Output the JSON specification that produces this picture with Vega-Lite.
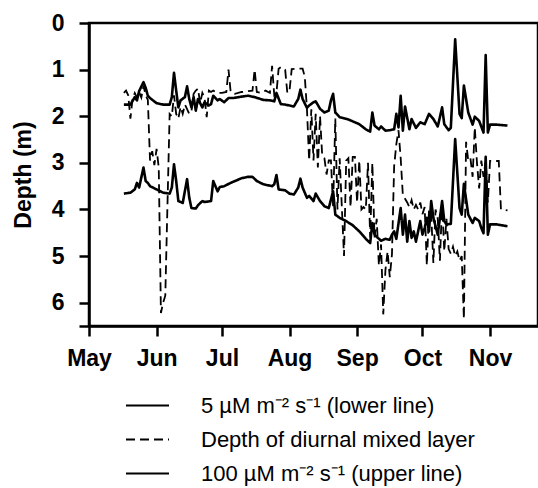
{
"$schema": "https://vega.github.io/schema/vega-lite/v6.json",
"width": 449, "height": 303,
"autosize": {"type": "none"},
"padding": {"left": 89, "top": 23, "right": 0, "bottom": 162},
"background": "white",
"config": {"view": {"stroke": "black", "strokeWidth": 2.5}, "font": "Liberation Sans"},
"data": {"values": [
{"s":"upper","date":"2003-05-17","v":1.75},{"s":"upper","date":"2003-05-20","v":1.75},{"s":"upper","date":"2003-05-22","v":1.59},{"s":"upper","date":"2003-05-23","v":1.66},{"s":"upper","date":"2003-05-24","v":1.46},{"s":"upper","date":"2003-05-26","v":1.27},{"s":"upper","date":"2003-05-27","v":1.39},{"s":"upper","date":"2003-05-28","v":1.56},{"s":"upper","date":"2003-05-29","v":1.61},{"s":"upper","date":"2003-06-01","v":1.72},{"s":"upper","date":"2003-06-04","v":1.75},{"s":"upper","date":"2003-06-07","v":1.75},{"s":"upper","date":"2003-06-08","v":1.59},{"s":"upper","date":"2003-06-09","v":1.07},{"s":"upper","date":"2003-06-10","v":1.45},{"s":"upper","date":"2003-06-11","v":1.81},{"s":"upper","date":"2003-06-12","v":1.66},{"s":"upper","date":"2003-06-14","v":1.59},{"s":"upper","date":"2003-06-15","v":1.36},{"s":"upper","date":"2003-06-16","v":1.63},{"s":"upper","date":"2003-06-17","v":1.81},{"s":"upper","date":"2003-06-18","v":1.59},{"s":"upper","date":"2003-06-19","v":1.88},{"s":"upper","date":"2003-06-20","v":1.63},{"s":"upper","date":"2003-06-22","v":1.81},{"s":"upper","date":"2003-06-23","v":1.70},{"s":"upper","date":"2003-06-25","v":1.77},{"s":"upper","date":"2003-06-26","v":1.74},{"s":"upper","date":"2003-06-27","v":1.56},{"s":"upper","date":"2003-06-29","v":1.66},{"s":"upper","date":"2003-06-30","v":1.63},{"s":"upper","date":"2003-07-02","v":1.70},{"s":"upper","date":"2003-07-04","v":1.61},{"s":"upper","date":"2003-07-06","v":1.61},{"s":"upper","date":"2003-07-10","v":1.58},{"s":"upper","date":"2003-07-13","v":1.56},{"s":"upper","date":"2003-07-16","v":1.59},{"s":"upper","date":"2003-07-20","v":1.65},{"s":"upper","date":"2003-07-23","v":1.66},{"s":"upper","date":"2003-07-25","v":1.68},{"s":"upper","date":"2003-07-26","v":1.50},{"s":"upper","date":"2003-07-28","v":1.74},{"s":"upper","date":"2003-07-30","v":1.75},{"s":"upper","date":"2003-08-03","v":1.79},{"s":"upper","date":"2003-08-05","v":1.63},{"s":"upper","date":"2003-08-06","v":1.43},{"s":"upper","date":"2003-08-07","v":1.63},{"s":"upper","date":"2003-08-09","v":1.82},{"s":"upper","date":"2003-08-10","v":1.77},{"s":"upper","date":"2003-08-12","v":1.70},{"s":"upper","date":"2003-08-13","v":1.68},{"s":"upper","date":"2003-08-15","v":1.84},{"s":"upper","date":"2003-08-17","v":1.92},{"s":"upper","date":"2003-08-19","v":1.88},{"s":"upper","date":"2003-08-20","v":1.66},{"s":"upper","date":"2003-08-21","v":1.52},{"s":"upper","date":"2003-08-22","v":1.92},{"s":"upper","date":"2003-08-24","v":2.02},{"s":"upper","date":"2003-08-28","v":2.07},{"s":"upper","date":"2003-09-02","v":2.17},{"s":"upper","date":"2003-09-05","v":2.28},{"s":"upper","date":"2003-09-07","v":2.33},{"s":"upper","date":"2003-09-08","v":1.92},{"s":"upper","date":"2003-09-09","v":2.20},{"s":"upper","date":"2003-09-11","v":2.28},{"s":"upper","date":"2003-09-12","v":2.22},{"s":"upper","date":"2003-09-14","v":2.31},{"s":"upper","date":"2003-09-16","v":2.30},{"s":"upper","date":"2003-09-18","v":2.28},{"s":"upper","date":"2003-09-19","v":1.95},{"s":"upper","date":"2003-09-20","v":2.24},{"s":"upper","date":"2003-09-21","v":1.56},{"s":"upper","date":"2003-09-22","v":2.31},{"s":"upper","date":"2003-09-23","v":1.79},{"s":"upper","date":"2003-09-25","v":2.28},{"s":"upper","date":"2003-09-26","v":2.06},{"s":"upper","date":"2003-09-28","v":2.25},{"s":"upper","date":"2003-09-30","v":2.13},{"s":"upper","date":"2003-10-02","v":2.17},{"s":"upper","date":"2003-10-04","v":1.95},{"s":"upper","date":"2003-10-06","v":2.06},{"s":"upper","date":"2003-10-08","v":2.22},{"s":"upper","date":"2003-10-09","v":2.02},{"s":"upper","date":"2003-10-10","v":1.81},{"s":"upper","date":"2003-10-11","v":2.17},{"s":"upper","date":"2003-10-13","v":2.30},{"s":"upper","date":"2003-10-14","v":2.25},{"s":"upper","date":"2003-10-16","v":0.35},{"s":"upper","date":"2003-10-18","v":1.95},{"s":"upper","date":"2003-10-19","v":2.04},{"s":"upper","date":"2003-10-20","v":1.34},{"s":"upper","date":"2003-10-22","v":1.92},{"s":"upper","date":"2003-10-24","v":2.18},{"s":"upper","date":"2003-10-25","v":2.01},{"s":"upper","date":"2003-10-27","v":2.10},{"s":"upper","date":"2003-10-29","v":2.35},{"s":"upper","date":"2003-10-30","v":0.69},{"s":"upper","date":"2003-10-31","v":2.35},{"s":"upper","date":"2003-11-01","v":2.18},{"s":"upper","date":"2003-11-04","v":2.18},{"s":"upper","date":"2003-11-09","v":2.2},
{"s":"lower","date":"2003-05-17","v":3.66},{"s":"lower","date":"2003-05-20","v":3.64},{"s":"lower","date":"2003-05-22","v":3.57},{"s":"lower","date":"2003-05-23","v":3.43},{"s":"lower","date":"2003-05-24","v":3.53},{"s":"lower","date":"2003-05-26","v":3.10},{"s":"lower","date":"2003-05-27","v":3.39},{"s":"lower","date":"2003-05-28","v":3.43},{"s":"lower","date":"2003-05-29","v":3.50},{"s":"lower","date":"2003-06-01","v":3.57},{"s":"lower","date":"2003-06-04","v":3.64},{"s":"lower","date":"2003-06-07","v":3.66},{"s":"lower","date":"2003-06-08","v":3.53},{"s":"lower","date":"2003-06-09","v":3.03},{"s":"lower","date":"2003-06-10","v":3.39},{"s":"lower","date":"2003-06-11","v":3.82},{"s":"lower","date":"2003-06-13","v":3.86},{"s":"lower","date":"2003-06-15","v":3.35},{"s":"lower","date":"2003-06-16","v":3.75},{"s":"lower","date":"2003-06-17","v":3.97},{"s":"lower","date":"2003-06-19","v":3.98},{"s":"lower","date":"2003-06-20","v":3.91},{"s":"lower","date":"2003-06-22","v":3.82},{"s":"lower","date":"2003-06-23","v":3.84},{"s":"lower","date":"2003-06-26","v":3.82},{"s":"lower","date":"2003-06-27","v":3.39},{"s":"lower","date":"2003-06-29","v":3.61},{"s":"lower","date":"2003-06-30","v":3.52},{"s":"lower","date":"2003-07-02","v":3.50},{"s":"lower","date":"2003-07-05","v":3.43},{"s":"lower","date":"2003-07-07","v":3.39},{"s":"lower","date":"2003-07-10","v":3.33},{"s":"lower","date":"2003-07-13","v":3.30},{"s":"lower","date":"2003-07-15","v":3.30},{"s":"lower","date":"2003-07-17","v":3.39},{"s":"lower","date":"2003-07-20","v":3.46},{"s":"lower","date":"2003-07-24","v":3.50},{"s":"lower","date":"2003-07-25","v":3.46},{"s":"lower","date":"2003-07-26","v":3.26},{"s":"lower","date":"2003-07-27","v":3.57},{"s":"lower","date":"2003-07-30","v":3.59},{"s":"lower","date":"2003-08-01","v":3.66},{"s":"lower","date":"2003-08-03","v":3.68},{"s":"lower","date":"2003-08-05","v":3.53},{"s":"lower","date":"2003-08-06","v":3.34},{"s":"lower","date":"2003-08-07","v":3.53},{"s":"lower","date":"2003-08-09","v":3.75},{"s":"lower","date":"2003-08-10","v":3.71},{"s":"lower","date":"2003-08-12","v":3.82},{"s":"lower","date":"2003-08-13","v":3.66},{"s":"lower","date":"2003-08-15","v":3.82},{"s":"lower","date":"2003-08-17","v":3.93},{"s":"lower","date":"2003-08-19","v":3.97},{"s":"lower","date":"2003-08-21","v":3.61},{"s":"lower","date":"2003-08-22","v":4.11},{"s":"lower","date":"2003-08-24","v":4.18},{"s":"lower","date":"2003-08-27","v":4.25},{"s":"lower","date":"2003-08-30","v":4.34},{"s":"lower","date":"2003-09-02","v":4.47},{"s":"lower","date":"2003-09-05","v":4.63},{"s":"lower","date":"2003-09-07","v":4.72},{"s":"lower","date":"2003-09-08","v":4.29},{"s":"lower","date":"2003-09-09","v":4.54},{"s":"lower","date":"2003-09-11","v":4.63},{"s":"lower","date":"2003-09-12","v":4.67},{"s":"lower","date":"2003-09-14","v":4.63},{"s":"lower","date":"2003-09-16","v":4.65},{"s":"lower","date":"2003-09-17","v":4.54},{"s":"lower","date":"2003-09-18","v":4.47},{"s":"lower","date":"2003-09-19","v":4.63},{"s":"lower","date":"2003-09-21","v":3.97},{"s":"lower","date":"2003-09-22","v":4.54},{"s":"lower","date":"2003-09-23","v":4.11},{"s":"lower","date":"2003-09-24","v":4.69},{"s":"lower","date":"2003-09-25","v":4.25},{"s":"lower","date":"2003-09-26","v":4.61},{"s":"lower","date":"2003-09-27","v":4.47},{"s":"lower","date":"2003-09-28","v":4.69},{"s":"lower","date":"2003-09-30","v":4.25},{"s":"lower","date":"2003-10-01","v":4.54},{"s":"lower","date":"2003-10-02","v":4.40},{"s":"lower","date":"2003-10-03","v":4.18},{"s":"lower","date":"2003-10-04","v":4.47},{"s":"lower","date":"2003-10-05","v":3.82},{"s":"lower","date":"2003-10-06","v":4.18},{"s":"lower","date":"2003-10-08","v":4.54},{"s":"lower","date":"2003-10-09","v":4.18},{"s":"lower","date":"2003-10-10","v":3.82},{"s":"lower","date":"2003-10-11","v":4.25},{"s":"lower","date":"2003-10-12","v":4.32},{"s":"lower","date":"2003-10-14","v":4.31},{"s":"lower","date":"2003-10-16","v":2.49},{"s":"lower","date":"2003-10-18","v":3.97},{"s":"lower","date":"2003-10-19","v":4.11},{"s":"lower","date":"2003-10-20","v":3.45},{"s":"lower","date":"2003-10-22","v":4.11},{"s":"lower","date":"2003-10-24","v":4.29},{"s":"lower","date":"2003-10-25","v":4.18},{"s":"lower","date":"2003-10-27","v":4.25},{"s":"lower","date":"2003-10-28","v":4.40},{"s":"lower","date":"2003-10-29","v":4.51},{"s":"lower","date":"2003-10-30","v":2.87},{"s":"lower","date":"2003-10-31","v":4.54},{"s":"lower","date":"2003-11-01","v":4.32},{"s":"lower","date":"2003-11-04","v":4.32},{"s":"lower","date":"2003-11-09","v":4.36},
{"s":"mixed","date":"2003-05-17","v":1.50},{"s":"mixed","date":"2003-05-18","v":1.45},{"s":"mixed","date":"2003-05-19","v":1.55},{"s":"mixed","date":"2003-05-20","v":2.05},{"s":"mixed","date":"2003-05-21","v":1.62},{"s":"mixed","date":"2003-05-22","v":1.50},{"s":"mixed","date":"2003-05-23","v":1.60},{"s":"mixed","date":"2003-05-24","v":1.48},{"s":"mixed","date":"2003-05-25","v":1.60},{"s":"mixed","date":"2003-05-26","v":1.35},{"s":"mixed","date":"2003-05-27","v":1.55},{"s":"mixed","date":"2003-05-28","v":1.65},{"s":"mixed","date":"2003-05-29","v":2.95},{"s":"mixed","date":"2003-05-30","v":2.75},{"s":"mixed","date":"2003-05-31","v":3.05},{"s":"mixed","date":"2003-06-01","v":2.70},{"s":"mixed","date":"2003-06-02","v":3.10},{"s":"mixed","date":"2003-06-03","v":6.22},{"s":"mixed","date":"2003-06-04","v":6.00},{"s":"mixed","date":"2003-06-05","v":5.85},{"s":"mixed","date":"2003-06-07","v":1.95},{"s":"mixed","date":"2003-06-08","v":2.00},{"s":"mixed","date":"2003-06-09","v":1.55},{"s":"mixed","date":"2003-06-10","v":1.95},{"s":"mixed","date":"2003-06-11","v":2.05},{"s":"mixed","date":"2003-06-12","v":1.80},{"s":"mixed","date":"2003-06-13","v":1.95},{"s":"mixed","date":"2003-06-14","v":1.75},{"s":"mixed","date":"2003-06-15","v":1.85},{"s":"mixed","date":"2003-06-16","v":1.95},{"s":"mixed","date":"2003-06-17","v":1.90},{"s":"mixed","date":"2003-06-18","v":1.52},{"s":"mixed","date":"2003-06-19","v":1.45},{"s":"mixed","date":"2003-06-20","v":1.41},{"s":"mixed","date":"2003-06-21","v":1.72},{"s":"mixed","date":"2003-06-22","v":1.50},{"s":"mixed","date":"2003-06-23","v":1.60},{"s":"mixed","date":"2003-06-24","v":2.02},{"s":"mixed","date":"2003-06-25","v":1.45},{"s":"mixed","date":"2003-06-26","v":1.48},{"s":"mixed","date":"2003-06-27","v":1.45},{"s":"mixed","date":"2003-06-29","v":1.50},{"s":"mixed","date":"2003-07-01","v":1.50},{"s":"mixed","date":"2003-07-03","v":1.48},{"s":"mixed","date":"2003-07-04","v":1.00},{"s":"mixed","date":"2003-07-05","v":1.48},{"s":"mixed","date":"2003-07-07","v":1.52},{"s":"mixed","date":"2003-07-10","v":1.48},{"s":"mixed","date":"2003-07-13","v":1.46},{"s":"mixed","date":"2003-07-15","v":1.45},{"s":"mixed","date":"2003-07-16","v":1.00},{"s":"mixed","date":"2003-07-17","v":1.48},{"s":"mixed","date":"2003-07-19","v":1.50},{"s":"mixed","date":"2003-07-21","v":1.45},{"s":"mixed","date":"2003-07-23","v":1.50},{"s":"mixed","date":"2003-07-24","v":0.92},{"s":"mixed","date":"2003-07-25","v":1.55},{"s":"mixed","date":"2003-07-26","v":1.50},{"s":"mixed","date":"2003-07-27","v":0.98},{"s":"mixed","date":"2003-07-28","v":0.95},{"s":"mixed","date":"2003-07-30","v":1.00},{"s":"mixed","date":"2003-07-31","v":1.50},{"s":"mixed","date":"2003-08-01","v":1.45},{"s":"mixed","date":"2003-08-02","v":0.99},{"s":"mixed","date":"2003-08-04","v":0.98},{"s":"mixed","date":"2003-08-07","v":0.98},{"s":"mixed","date":"2003-08-08","v":1.15},{"s":"mixed","date":"2003-08-09","v":1.85},{"s":"mixed","date":"2003-08-10","v":2.95},{"s":"mixed","date":"2003-08-11","v":1.85},{"s":"mixed","date":"2003-08-12","v":2.95},{"s":"mixed","date":"2003-08-13","v":1.95},{"s":"mixed","date":"2003-08-14","v":3.10},{"s":"mixed","date":"2003-08-15","v":2.00},{"s":"mixed","date":"2003-08-16","v":2.85},{"s":"mixed","date":"2003-08-17","v":2.90},{"s":"mixed","date":"2003-08-18","v":3.25},{"s":"mixed","date":"2003-08-19","v":2.95},{"s":"mixed","date":"2003-08-20","v":2.95},{"s":"mixed","date":"2003-08-21","v":3.95},{"s":"mixed","date":"2003-08-22","v":2.05},{"s":"mixed","date":"2003-08-23","v":4.00},{"s":"mixed","date":"2003-08-24","v":2.90},{"s":"mixed","date":"2003-08-25","v":3.95},{"s":"mixed","date":"2003-08-26","v":5.00},{"s":"mixed","date":"2003-08-27","v":2.95},{"s":"mixed","date":"2003-08-28","v":2.90},{"s":"mixed","date":"2003-08-29","v":3.95},{"s":"mixed","date":"2003-08-30","v":2.87},{"s":"mixed","date":"2003-08-31","v":2.87},{"s":"mixed","date":"2003-09-01","v":3.85},{"s":"mixed","date":"2003-09-02","v":2.95},{"s":"mixed","date":"2003-09-03","v":4.00},{"s":"mixed","date":"2003-09-04","v":3.95},{"s":"mixed","date":"2003-09-05","v":4.00},{"s":"mixed","date":"2003-09-06","v":3.00},{"s":"mixed","date":"2003-09-07","v":4.60},{"s":"mixed","date":"2003-09-08","v":3.00},{"s":"mixed","date":"2003-09-09","v":4.60},{"s":"mixed","date":"2003-09-10","v":4.20},{"s":"mixed","date":"2003-09-11","v":5.20},{"s":"mixed","date":"2003-09-12","v":4.75},{"s":"mixed","date":"2003-09-13","v":6.25},{"s":"mixed","date":"2003-09-14","v":5.30},{"s":"mixed","date":"2003-09-15","v":4.90},{"s":"mixed","date":"2003-09-16","v":5.45},{"s":"mixed","date":"2003-09-17","v":4.96},{"s":"mixed","date":"2003-09-18","v":3.07},{"s":"mixed","date":"2003-09-19","v":2.60},{"s":"mixed","date":"2003-09-20","v":2.30},{"s":"mixed","date":"2003-09-21","v":2.90},{"s":"mixed","date":"2003-09-22","v":3.70},{"s":"mixed","date":"2003-09-23","v":3.77},{"s":"mixed","date":"2003-09-24","v":3.85},{"s":"mixed","date":"2003-09-25","v":3.95},{"s":"mixed","date":"2003-09-26","v":3.80},{"s":"mixed","date":"2003-09-27","v":4.00},{"s":"mixed","date":"2003-09-28","v":3.90},{"s":"mixed","date":"2003-09-29","v":4.00},{"s":"mixed","date":"2003-09-30","v":3.85},{"s":"mixed","date":"2003-10-01","v":4.10},{"s":"mixed","date":"2003-10-02","v":3.95},{"s":"mixed","date":"2003-10-03","v":5.20},{"s":"mixed","date":"2003-10-04","v":4.00},{"s":"mixed","date":"2003-10-05","v":4.10},{"s":"mixed","date":"2003-10-06","v":5.15},{"s":"mixed","date":"2003-10-07","v":4.00},{"s":"mixed","date":"2003-10-08","v":4.20},{"s":"mixed","date":"2003-10-09","v":5.10},{"s":"mixed","date":"2003-10-10","v":3.85},{"s":"mixed","date":"2003-10-11","v":4.90},{"s":"mixed","date":"2003-10-12","v":4.20},{"s":"mixed","date":"2003-10-13","v":4.85},{"s":"mixed","date":"2003-10-14","v":4.95},{"s":"mixed","date":"2003-10-15","v":4.80},{"s":"mixed","date":"2003-10-16","v":5.00},{"s":"mixed","date":"2003-10-17","v":4.90},{"s":"mixed","date":"2003-10-18","v":5.10},{"s":"mixed","date":"2003-10-19","v":5.00},{"s":"mixed","date":"2003-10-20","v":6.35},{"s":"mixed","date":"2003-10-21","v":2.55},{"s":"mixed","date":"2003-10-22","v":2.95},{"s":"mixed","date":"2003-10-23","v":2.90},{"s":"mixed","date":"2003-10-24","v":3.30},{"s":"mixed","date":"2003-10-25","v":2.24},{"s":"mixed","date":"2003-10-26","v":3.00},{"s":"mixed","date":"2003-10-27","v":3.55},{"s":"mixed","date":"2003-10-28","v":2.95},{"s":"mixed","date":"2003-10-29","v":3.30},{"s":"mixed","date":"2003-10-30","v":2.95},{"s":"mixed","date":"2003-10-31","v":3.85},{"s":"mixed","date":"2003-11-01","v":2.96},{"s":"mixed","date":"2003-11-03","v":2.96},{"s":"mixed","date":"2003-11-05","v":2.96},{"s":"mixed","date":"2003-11-06","v":4.00},{"s":"mixed","date":"2003-11-09","v":4.02}
]},
"encoding": {
  "x": {"field": "date", "type": "temporal",
    "scale": {"type": "utc", "domain": [{"year": 2003, "month": 5, "date": 1, "utc": true}, {"year": 2003, "month": 11, "date": 23, "utc": true}]},
    "axis": {"title": null, "grid": false, "format": "%b",
      "values": [{"year": 2003, "month": 5, "date": 1, "utc": true}, {"year": 2003, "month": 6, "date": 1, "utc": true}, {"year": 2003, "month": 7, "date": 1, "utc": true}, {"year": 2003, "month": 8, "date": 1, "utc": true}, {"year": 2003, "month": 9, "date": 1, "utc": true}, {"year": 2003, "month": 10, "date": 1, "utc": true}, {"year": 2003, "month": 11, "date": 1, "utc": true}],
      "labelFont": "Liberation Sans", "labelFontSize": 23, "labelFontWeight": "bold", "labelColor": "black", "labelPadding": 11,
      "tickColor": "black", "tickSize": 10, "tickWidth": 2.5, "domainColor": "black", "domainWidth": 2.5, "labelFlush": false, "labelOverlap": false}},
  "y": {"field": "v", "type": "quantitative",
    "scale": {"domain": [0, 6.5], "reverse": true, "nice": false, "zero": false},
    "axis": {"title": "Depth (m)", "grid": false, "values": [0, 1, 2, 3, 4, 5, 6, 6.5],
      "labelExpr": "datum.value == 6.5 ? '' : datum.label",
      "labelFont": "Liberation Sans", "labelFontSize": 23, "labelFontWeight": "bold", "labelColor": "black", "labelPadding": 15,
      "titleFont": "Liberation Sans", "titleFontSize": 23, "titleFontWeight": "bold", "titleColor": "black", "titlePadding": 16,
      "tickColor": "black", "tickSize": 10, "tickWidth": 2.5, "domainColor": "black", "domainWidth": 2.5, "labelFlush": false, "labelOverlap": false}},
  "strokeDash": {"field": "s", "type": "nominal",
    "scale": {"domain": ["lower", "mixed", "upper"], "range": [[1, 0], [9, 5], [1, 0]]},
    "legend": {"title": null, "orient": "none", "legendX": 36, "legendY": 360, "direction": "vertical", "padding": 0,
      "symbolType": "stroke", "symbolSize": 1849, "symbolStrokeColor": "black", "symbolStrokeWidth": 2, "symbolFillColor": "black",
      "labelFont": "Liberation Sans", "labelFontSize": 22, "labelColor": "black", "labelOffset": 31, "rowPadding": -6, "labelLimit": 500,
      "labelExpr": "datum.value == 'lower' ? '5 µM m⁻² s⁻¹ (lower line)' : (datum.value == 'upper' ? '100 µM m⁻² s⁻¹ (upper line)' : 'Depth of diurnal mixed layer')"}}
},
"layer": [
  {"transform": [{"filter": "datum.s == 'mixed'"}], "mark": {"type": "line", "color": "black", "strokeWidth": 1.8}},
  {"transform": [{"filter": "datum.s != 'mixed'"}], "mark": {"type": "line", "color": "black", "strokeWidth": 2.6, "strokeJoin": "round"}}
]
}
